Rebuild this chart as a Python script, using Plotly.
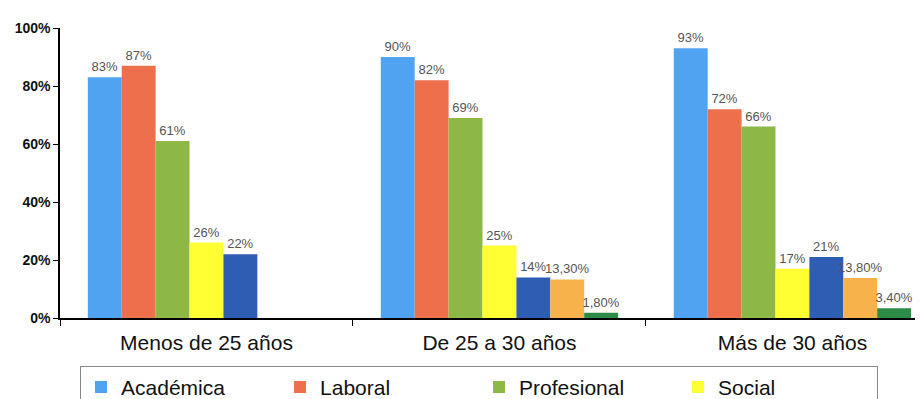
import plotly.graph_objects as go

categories = ["Menos de 25 años", "De 25 a 30 años", "Más de 30 años"]
series_names = ["Académica", "Laboral", "Profesional", "Social", "Serie 5", "Serie 6", "Serie 7"]
academica = [83, 90, 93]
laboral = [87, 82, 72]
profesional = [61, 69, 66]
social = [26, 25, 17]
serie5 = [22, 14, 21]
serie6 = [None, 13.3, 13.8]
serie7 = [None, 1.8, 3.4]
labels_academica = ["83%", "90%", "93%"]
labels_laboral = ["87%", "82%", "72%"]
labels_profesional = ["61%", "69%", "66%"]
labels_social = ["26%", "25%", "17%"]
labels_serie5 = ["22%", "14%", "21%"]
labels_serie6 = ["", "13,30%", "13,80%"]
labels_serie7 = ["", "1,80%", "3,40%"]
y_ticks = [0, 20, 40, 60, 80, 100]
y_tick_labels = ["0%", "20%", "40%", "60%", "80%", "100%"]

values = [academica, laboral, profesional, social, serie5, serie6, serie7]
labels = [labels_academica, labels_laboral, labels_profesional, labels_social,
          labels_serie5, labels_serie6, labels_serie7]
colors = ["#4FA3F0", "#EE6F4C", "#8DB845", "#FFFF33", "#2F5DB3", "#F8B24C", "#2E8B45"]
show_leg = [True, True, True, True, False, False, False]

fig = go.Figure()
for name, v, t, c, s in zip(series_names, values, labels, colors, show_leg):
    fig.add_trace(go.Bar(
        x=categories, y=v, name=name, text=t, textposition="outside",
        constraintext="none",
        textfont=dict(family="Liberation Sans, Arial", size=13, color="#555555"),
        marker=dict(color=c, line=dict(width=0)),
        showlegend=s, cliponaxis=False,
    ))

fig.update_layout(
    width=923, height=399,
    paper_bgcolor="white", plot_bgcolor="white",
    barmode="group", bargap=0.19, bargroupgap=0,
    margin=dict(l=52, r=0, t=20, b=89, autoexpand=False),
    font=dict(family="Liberation Sans, Arial", color="#111111"),
    legend=dict(
        orientation="h", x=0.023, xanchor="left", y=-0.165, yanchor="top",
        entrywidth=154, entrywidthmode="pixels",
        bordercolor="#888888", borderwidth=1,
        font=dict(size=21, color="#111111"),
        traceorder="normal",
    ),
)
fig.update_xaxes(
    range=[-0.5, 2.473], showline=True, linecolor="black", linewidth=1.5,
    ticks="outside", tickson="boundaries", ticklen=6, tickcolor="black",
    tickfont=dict(size=21, family="Liberation Sans, Arial", color="#111111"),
    ticklabelstandoff=5, showgrid=False, fixedrange=True,
)
fig.update_yaxes(
    range=[0, 100], tickvals=y_ticks, ticktext=y_tick_labels,
    showline=True, linecolor="black", linewidth=1.5,
    ticks="outside", ticklen=5, tickcolor="black",
    tickfont=dict(size=14, family="Liberation Sans, Arial", color="#111111", weight="bold"),
    showgrid=False, zeroline=False,
)

fig.write_html("out.html")
